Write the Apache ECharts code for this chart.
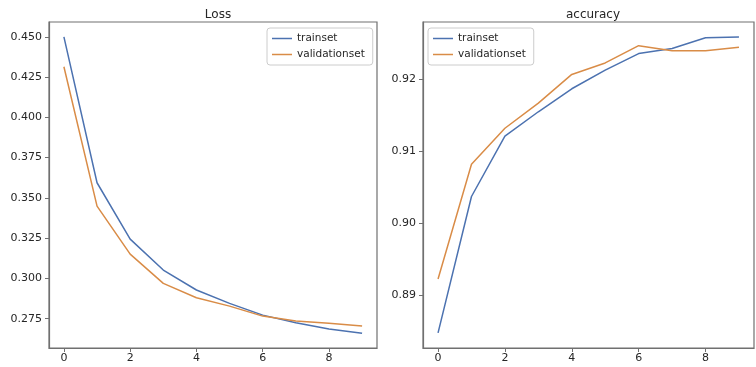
<!DOCTYPE html>
<html>
<head>
<meta charset="utf-8">
<script src="https://cdn.jsdelivr.net/npm/echarts@6/dist/echarts.min.js"></script>
<style>html,body{margin:0;padding:0;background:#fff}#c{width:756px;height:367px}</style>
</head>
<body>
<div id="c"></div>
<script>
const epochs = [0,1,2,3,4,5,6,7,8,9];
const lossTrain = [0.4500,0.3594,0.3244,0.3052,0.2928,0.2845,0.2772,0.2725,0.2686,0.2659];
const lossVal   = [0.4314,0.3449,0.3151,0.2969,0.2880,0.2828,0.2766,0.2735,0.2721,0.2704];
const accTrain  = [0.8847,0.9037,0.9121,0.9155,0.9187,0.9213,0.9236,0.9243,0.9258,0.9259];
const accVal    = [0.8922,0.9082,0.9132,0.9167,0.9207,0.9223,0.9247,0.9240,0.9240,0.9245];
const xTicks = [0,2,4,6,8];
const lossTicks = [0.275,0.300,0.325,0.350,0.375,0.400,0.425,0.450];
const accTicks = [0.89,0.90,0.91,0.92];
const titles = ['Loss','accuracy'];
const names = ['trainset','validationset'];

const BLUE = '#4c72b0', ORANGE = '#d98c47';
const FONT = 'DejaVu Sans';
const AX = '#707070';
const pair = arr => epochs.map((e,i)=>[e,arr[i]]);

function xAxis(gi){
  return {type:'value', gridIndex:gi, min:-0.45, max:9.45,
    splitLine:{show:false},
    axisLine:{show:true, onZero:false, lineStyle:{color:AX, width:1.2}},
    axisTick:{show:true, length:4, customValues:xTicks, lineStyle:{color:AX}},
    axisLabel:{customValues:xTicks, margin:5, fontSize:11, fontFamily:FONT, color:'#262626'}};
}
function yAxis(gi,min,max,ticks,dec){
  return {type:'value', gridIndex:gi, min:min, max:max,
    splitLine:{show:false},
    axisLine:{show:true, onZero:false, lineStyle:{color:AX, width:1.2}},
    axisTick:{show:true, length:4, customValues:ticks, lineStyle:{color:AX}},
    axisLabel:{customValues:ticks, margin:7, fontSize:11, fontFamily:FONT, color:'#262626',
      formatter:v=>v.toFixed(dec)}};
}
function legend(left){
  return {left:left, top:28, orient:'vertical', data:names,
    icon:'rect', itemWidth:20, itemHeight:1.5, itemGap:3, itemTextGap:11,
    padding:[4,8,4,5], borderColor:'#cccccc', borderWidth:1, borderRadius:3,
    backgroundColor:'#fff',
    textStyle:{fontSize:10.5, fontFamily:FONT, color:'#262626', lineHeight:13}};
}
function line(name,data,color,gi){
  return {type:'line', name:name, xAxisIndex:gi, yAxisIndex:gi, data:data,
    showSymbol:false, symbol:'none', animation:false,
    lineStyle:{color:color, width:1.5}, itemStyle:{color:color}};
}

const chart = echarts.init(document.getElementById('c'), null, {renderer:'canvas'});
chart.setOption({
  animation:false,
  title:[
    {text:titles[0], left:213, top:4, textAlign:'center', textStyle:{fontSize:12, fontWeight:'normal', fontFamily:FONT, color:'#262626'}},
    {text:titles[1], left:588, top:4, textAlign:'center', textStyle:{fontSize:12, fontWeight:'normal', fontFamily:FONT, color:'#262626'}}
  ],
  legend:[legend(267), legend(428)],
  grid:[
    {left:49, top:22, width:328, height:326, show:true, borderColor:AX, borderWidth:1.2, backgroundColor:'transparent'},
    {left:423, top:22, width:331, height:326, show:true, borderColor:AX, borderWidth:1.2, backgroundColor:'transparent'}
  ],
  xAxis:[xAxis(0), xAxis(1)],
  yAxis:[yAxis(0,0.2568,0.4592,lossTicks,3), yAxis(1,0.8826,0.9280,accTicks,2)],
  series:[
    line(names[0], pair(lossTrain), BLUE, 0),
    line(names[1], pair(lossVal), ORANGE, 0),
    line(names[0], pair(accTrain), BLUE, 1),
    line(names[1], pair(accVal), ORANGE, 1)
  ]
});
</script>
</body>
</html>
